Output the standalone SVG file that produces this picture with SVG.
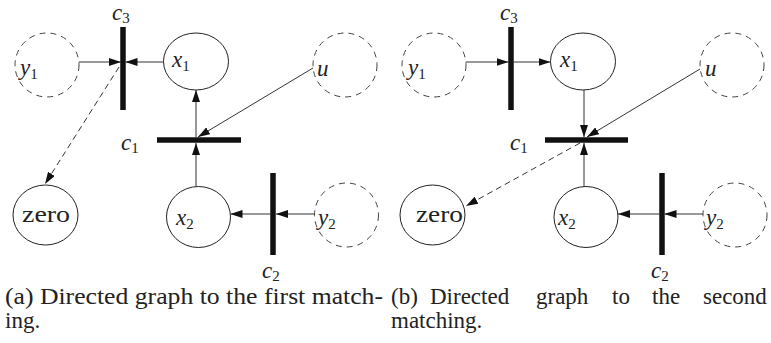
<svg xmlns="http://www.w3.org/2000/svg" width="771" height="343" viewBox="0 0 771 343">
<defs>
<marker id="ah" viewBox="0 0 12 8" refX="12" refY="4" markerWidth="12" markerHeight="8" markerUnits="userSpaceOnUse" orient="auto">
<path d="M0,0 L12,4 L0,8 Z" fill="#111"/>
</marker>
</defs>
<style>
.node{fill:#fff;stroke:#222;stroke-width:1}
.dash{fill:#fff;stroke:#444;stroke-width:1;stroke-dasharray:6 5}
.bar{stroke:#111;stroke-width:5.5;fill:none}
.edge{stroke:#333;stroke-width:1;fill:none;marker-end:url(#ah)}
.dashed{stroke-dasharray:6 4}
</style>
<g id="left">
<g id="a-y1"><circle class="dash" cx="47" cy="65" r="32"/><text font-family="Liberation Serif" font-style="italic" font-size="23" fill="#222" x="20" y="75">y<tspan font-style="normal" font-size="15" dy="4">1</tspan></text></g>
<g id="a-c3"><line class="bar" x1="123" y1="27" x2="123" y2="110"/><text font-family="Liberation Serif" font-style="italic" font-size="23" fill="#222" x="112" y="20">c<tspan font-style="normal" font-size="15" dy="3">3</tspan></text></g>
<g id="a-x1"><ellipse class="node" cx="196" cy="61.5" rx="32.5" ry="28.5"/><text font-family="Liberation Serif" font-style="italic" font-size="23" fill="#222" x="172" y="67">x<tspan font-style="normal" font-size="15" dy="4">1</tspan></text></g>
<g id="a-u"><circle class="dash" cx="345" cy="65" r="32"/><text font-family="Liberation Serif" font-style="italic" font-size="23" fill="#222" x="317" y="76">u</text></g>
<g id="a-c1"><line class="bar" x1="157" y1="140" x2="241" y2="140"/><text font-family="Liberation Serif" font-style="italic" font-size="23" fill="#222" x="121" y="150">c<tspan font-style="normal" font-size="15" dy="3">1</tspan></text></g>
<g id="a-zero"><ellipse class="node" cx="45.5" cy="215" rx="32.5" ry="30"/><text font-family="Liberation Serif" font-size="24" fill="#222" x="22" y="222" textLength="48" lengthAdjust="spacingAndGlyphs">zero</text></g>
<g id="a-x2"><ellipse class="node" cx="198.5" cy="217" rx="32" ry="30.5"/><text font-family="Liberation Serif" font-style="italic" font-size="23" fill="#222" x="176" y="225">x<tspan font-style="normal" font-size="15" dy="4">2</tspan></text></g>
<g id="a-c2"><line class="bar" x1="273" y1="173" x2="273" y2="255"/><text font-family="Liberation Serif" font-style="italic" font-size="23" fill="#222" x="262" y="278">c<tspan font-style="normal" font-size="15" dy="3">2</tspan></text></g>
<g id="a-y2"><circle class="dash" cx="346.5" cy="215" r="32"/><text font-family="Liberation Serif" font-style="italic" font-size="23" fill="#222" x="318" y="225">y<tspan font-style="normal" font-size="15" dy="4">2</tspan></text></g>
</g>
<g id="right">
<g id="b-y1"><circle class="dash" cx="434" cy="65" r="32"/><text font-family="Liberation Serif" font-style="italic" font-size="23" fill="#222" x="408" y="75">y<tspan font-style="normal" font-size="15" dy="4">1</tspan></text></g>
<g id="b-c3"><line class="bar" x1="511" y1="27" x2="511" y2="110"/><text font-family="Liberation Serif" font-style="italic" font-size="23" fill="#222" x="500" y="20">c<tspan font-style="normal" font-size="15" dy="3">3</tspan></text></g>
<g id="b-x1"><ellipse class="node" cx="583" cy="61.5" rx="32.5" ry="28.5"/><text font-family="Liberation Serif" font-style="italic" font-size="23" fill="#222" x="560" y="67">x<tspan font-style="normal" font-size="15" dy="4">1</tspan></text></g>
<g id="b-u"><circle class="dash" cx="732" cy="65" r="32"/><text font-family="Liberation Serif" font-style="italic" font-size="23" fill="#222" x="705" y="76">u</text></g>
<g id="b-c1"><line class="bar" x1="545" y1="140" x2="628" y2="140"/><text font-family="Liberation Serif" font-style="italic" font-size="23" fill="#222" x="510" y="150">c<tspan font-style="normal" font-size="15" dy="3">1</tspan></text></g>
<g id="b-zero"><ellipse class="node" cx="432.5" cy="215" rx="32.5" ry="30"/><text font-family="Liberation Serif" font-size="24" fill="#222" x="416" y="222" textLength="47" lengthAdjust="spacingAndGlyphs">zero</text></g>
<g id="b-x2"><ellipse class="node" cx="586" cy="217" rx="32" ry="30.5"/><text font-family="Liberation Serif" font-style="italic" font-size="23" fill="#222" x="558" y="225">x<tspan font-style="normal" font-size="15" dy="4">2</tspan></text></g>
<g id="b-c2"><line class="bar" x1="662" y1="173" x2="662" y2="255"/><text font-family="Liberation Serif" font-style="italic" font-size="23" fill="#222" x="651" y="278">c<tspan font-style="normal" font-size="15" dy="3">2</tspan></text></g>
<g id="b-y2"><circle class="dash" cx="735" cy="215" r="32"/><text font-family="Liberation Serif" font-style="italic" font-size="23" fill="#222" x="706" y="225">y<tspan font-style="normal" font-size="15" dy="4">2</tspan></text></g>
</g>
<g id="connectors">
<line class="edge" x1="79" y1="62" x2="121" y2="62"/>
<line class="edge" x1="163.5" y1="62" x2="125.5" y2="62"/>
<line class="edge dashed" x1="119" y1="67" x2="45" y2="184"/>
<line class="edge" x1="196" y1="137" x2="196" y2="90"/>
<line class="edge" x1="313" y1="68" x2="198" y2="137"/>
<line class="edge" x1="196" y1="186.5" x2="196" y2="143"/>
<line class="edge" x1="314.5" y1="214" x2="276" y2="214"/>
<line class="edge" x1="270.5" y1="214" x2="230.5" y2="214"/>
<line class="edge" x1="466" y1="62" x2="508.5" y2="62"/>
<line class="edge" x1="513.5" y1="62" x2="550.5" y2="62"/>
<line class="edge" x1="584" y1="90" x2="584" y2="137"/>
<line class="edge" x1="700" y1="69" x2="587" y2="137"/>
<line class="edge" x1="584" y1="186.5" x2="584" y2="143"/>
<line class="edge dashed" x1="580" y1="143" x2="466" y2="206"/>
<line class="edge" x1="703" y1="214" x2="664.5" y2="214"/>
<line class="edge" x1="659.5" y1="214" x2="618" y2="214"/>
</g>
<g id="captions">
<text font-family="Liberation Serif" font-size="23" fill="#222" x="5" y="304" textLength="378" lengthAdjust="spacingAndGlyphs">(a) Directed graph to the first match-</text>
<text font-family="Liberation Serif" font-size="23" fill="#222" x="5" y="328">ing.</text>
<text font-family="Liberation Serif" font-size="23" fill="#222" y="304"><tspan x="391">(b)</tspan><tspan x="430">Directed</tspan><tspan x="536">graph</tspan><tspan x="612">to</tspan><tspan x="652">the</tspan><tspan x="703">second</tspan></text>
<text font-family="Liberation Serif" font-size="23" fill="#222" x="391" y="328">matching.</text>
</g>
</svg>
